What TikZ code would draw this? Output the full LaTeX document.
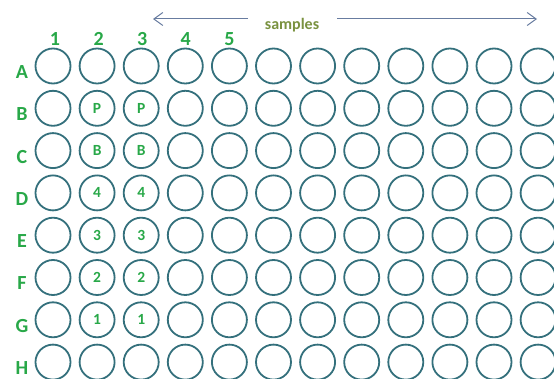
\documentclass[tikz,border=0pt]{standalone}
\usepackage{fontspec}
\setmainfont{Carlito}
\usetikzlibrary{arrows.meta}
\definecolor{WellTeal}{RGB}{52,112,124}
\definecolor{LabGreen}{RGB}{40,168,72}
\definecolor{SmpOlive}{RGB}{122,146,64}
\definecolor{ArrBlue}{RGB}{104,124,160}

\begin{document}
\begin{tikzpicture}[x=1pt, y=-1pt,
          well/.style={circle, draw=WellTeal, line width=1.8pt, minimum size=35pt,
                       inner sep=0pt, text=LabGreen, font=\fontsize{15.5}{15.5}\selectfont\bfseries},
          lab/.style={inner sep=0pt, text=LabGreen, font=\fontsize{20}{20}\selectfont\bfseries},
          arr/.style={-{Straight Barb[length=9pt, width=13pt]}, ArrBlue, line width=1pt}
        ]
        \useasboundingbox (0,0) rectangle (554,379);

        % Plate wells, 8 rows x 12 columns
        \foreach \r [count=\j from 0] in {A,B,C,D,E,F,G,H} {
          \node[lab] (row\r) at (22, 72+\j*42.3) {\r};
          \foreach \c in {1,...,12}
            \node[well] (w\r\c) at (53+\c*44.1-44.1, 66+\j*42.3) {};
        }

        % Column numbers
        \foreach \c in {1,...,5}
          \node[lab] (col\c) at (55+\c*43.6-43.6, 39) {\c};

        % Standards in columns 2 and 3
        \foreach \r/\t in {B/P, C/B, D/4, E/3, F/2, G/1} {
          \node[well, draw=none] at (w\r2) {\t};
          \node[well, draw=none] at (w\r3) {\t};
        }

        % Samples direction
        \node[text=SmpOlive, font=\fontsize{16}{16}\selectfont\bfseries]
              (smp) at (292, 25) {samples};
        \coordinate (lbeg) at (248, 19);
        \coordinate (lend) at (153, 19);
        \coordinate (rbeg) at (337, 19);
        \coordinate (rend) at (537, 19);
        \draw[arr] (lbeg) -- (lend);
        \draw[arr] (rbeg) -- (rend);
      \end{tikzpicture}
\end{document}
